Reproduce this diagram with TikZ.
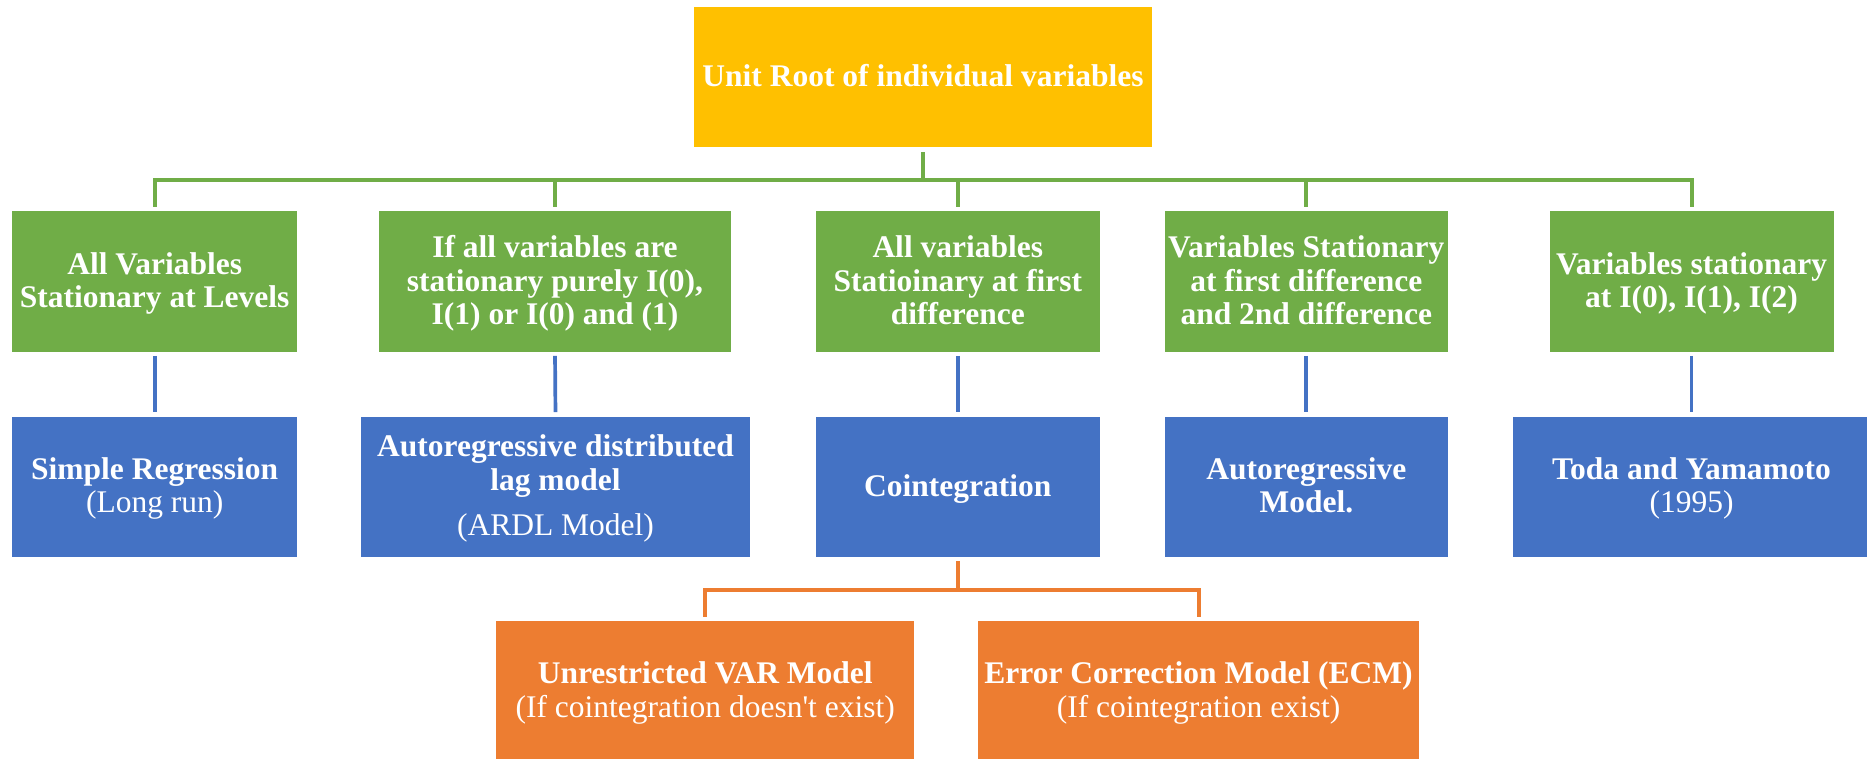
\documentclass[tikz,border=0pt]{standalone}
\usepackage{fontspec}
\newfontfamily\boxfont{Liberation Serif}[Ligatures=NoCommon]
\definecolor{rootyellow}{HTML}{FFC000}
\definecolor{stepgreen}{HTML}{70AD47}
\definecolor{modelblue}{HTML}{4472C4}
\definecolor{ecmorange}{HTML}{ED7D31}
% uniform line strut so every box centres its text the same way
\newcommand\lstrut{\rule[-7pt]{0pt}{33pt}}
\begin{document}
\begin{tikzpicture}[x=1pt,y=-1pt,
  box/.style={rectangle, inner sep=0pt, minimum height=140pt, align=center,
    text=white, font=\boxfont\fontsize{31.5}{33.3}\selectfont},
  rootbox/.style={box, fill=rootyellow},
  greenbox/.style={box, fill=stepgreen, minimum height=141.5pt},
  bluebox/.style={box, fill=modelblue},
  orangebox/.style={box, fill=ecmorange},
  gline/.style={draw=stepgreen, line width=4pt, shorten <=4.7pt, shorten >=3.7pt},
  bline/.style={draw=modelblue, line width=3.7pt, shorten <=3.2pt, shorten >=4.4pt},
  oline/.style={draw=ecmorange, line width=4pt, shorten <=4.3pt, shorten >=4.3pt}]
\useasboundingbox (0,0) rectangle (1867,758);

% root
\node[rootbox, minimum width=458pt] (root) at (923,77.2) {\lstrut\textbf{Unit Root of individual variables}};

% stationarity cases
\node[greenbox, minimum width=284.5pt] (g1) at (154.7,281.7)
  {\lstrut\textbf{All Variables}\\\lstrut\textbf{Stationary at Levels}};
\node[greenbox, minimum width=352pt] (g2) at (555,281.7)
  {\lstrut\textbf{If all variables are}\\\lstrut\textbf{stationary purely I(0),}\\\lstrut\textbf{I(1) or I(0) and (1)}};
\node[greenbox, minimum width=283.5pt] (g3) at (957.8,281.7)
  {\lstrut\textbf{All variables}\\\lstrut\textbf{Statioinary at first}\\\lstrut\textbf{difference}};
\node[greenbox, minimum width=283.5pt] (g4) at (1306.3,281.7)
  {\lstrut\textbf{Variables Stationary}\\\lstrut\textbf{at first difference}\\\lstrut\textbf{and 2nd difference}};
\node[greenbox, minimum width=284pt] (g5) at (1691.5,281.7)
  {\lstrut\textbf{Variables stationary}\\\lstrut\textbf{at I(0), I(1), I(2)}};

% models
\node[bluebox, minimum width=284.5pt] (b1) at (154.7,486.7)
  {\lstrut\textbf{Simple Regression}\\\lstrut(Long run)};
\node[bluebox, minimum width=389pt] (b2) at (555.5,486.7)
  {\lstrut\textbf{Autoregressive distributed}\\\lstrut\textbf{lag model}\\[12pt]\lstrut(ARDL Model)};
\node[bluebox, minimum width=283.5pt] (b3) at (957.8,486.7)
  {\lstrut\textbf{Cointegration}};
\node[bluebox, minimum width=283.5pt] (b4) at (1306.3,486.7)
  {\lstrut\textbf{Autoregressive}\\\lstrut\textbf{Model.}};
\node[bluebox, minimum width=356.4pt] (b5) at (1691.5,486.7)
  {\lstrut\textbf{Toda and Yamamoto}\\\lstrut(1995)};

% cointegration outcomes
\node[orangebox, minimum width=417.5pt] (o1) at (705.2,691)
  {\lstrut\textbf{Unrestricted VAR Model}\\\lstrut(If cointegration doesn't exist)};
\node[orangebox, minimum width=441pt] (o2) at (1198.5,691)
  {\lstrut\textbf{Error Correction Model (ECM)}\\\lstrut(If cointegration exist)};

% connectors
\coordinate (gbar) at (0,180.3);
\coordinate (obar) at (0,589.7);
\foreach \g in {g1,g2,g3,g4,g5}
  \draw[gline] (root.south) -- (root.south |- gbar) -| (\g.north);
\foreach \i in {1,...,5}
  \draw[bline] (g\i.south) -- (b\i.north);
\foreach \o in {o1,o2}
  \draw[oline] (b3.south) -- (b3.south |- obar) -| (\o.north);
\end{tikzpicture}
\end{document}
